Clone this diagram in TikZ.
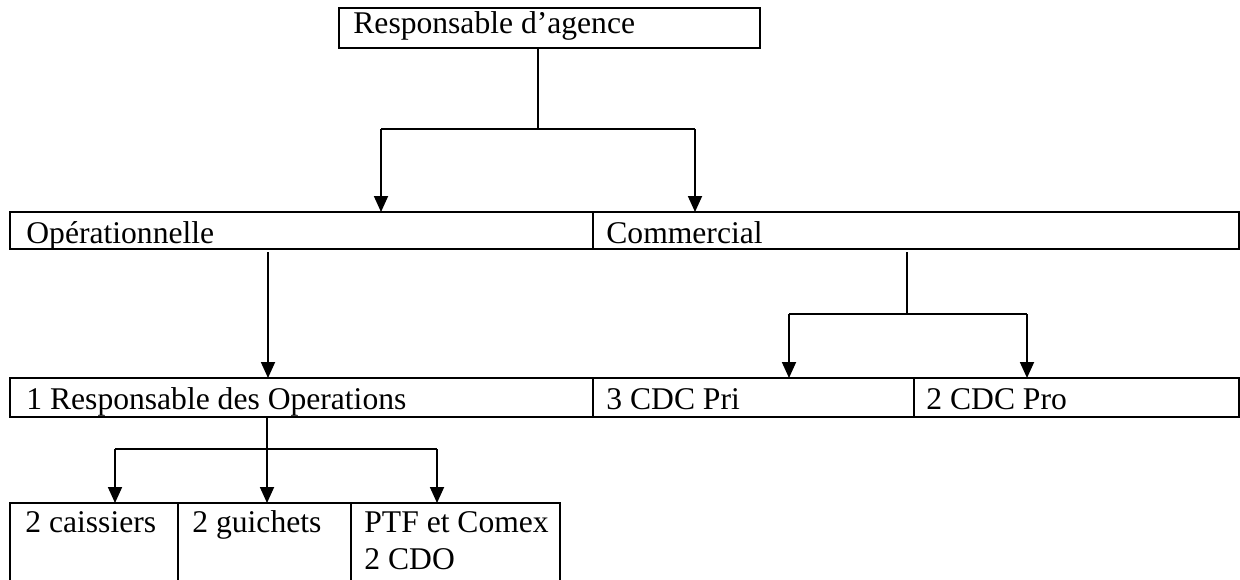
\documentclass[tikz,border=0pt]{standalone}
\usepackage{fontspec}
\setmainfont{Liberation Serif}
\usetikzlibrary{arrows.meta}
\begin{document}
\begin{tikzpicture}[x=0.5pt,y=-0.5pt,
  cell/.style={draw, line width=1.1pt, rectangle, inner sep=0pt, outer sep=0pt, anchor=north west},
  txt/.style={anchor=base west, inner sep=0pt, font=\fontsize{15.8}{18}\selectfont},
  conn/.style={line width=0.9pt},
  arr/.style={conn, -{Triangle[length=8pt,width=7pt]}}]
\useasboundingbox (0,0) rectangle (1240,579);
\clip (0,0) rectangle (1240,579);
% top box
\node[cell, minimum width=210.5pt, minimum height=20pt] (top) at (339,8) {};
\node[txt] (ttop) at (353,33) {Responsable d’agence};
% row 2
\node[cell, minimum width=291.5pt, minimum height=18.5pt] (opc) at (10,212) {};
\node[cell, minimum width=323pt, minimum height=18.5pt] (comc) at (593,212) {};
\node[txt] (topc) at (26,243) {Opérationnelle};
\node[txt] (tcomc) at (606,243) {Commercial};
% row 3
\node[cell, minimum width=291.5pt, minimum height=19.5pt] (resp) at (10,378) {};
\node[cell, minimum width=160.5pt, minimum height=19.5pt] (pri) at (593,378) {};
\node[cell, minimum width=162.5pt, minimum height=19.5pt] (pro) at (914,378) {};
\node[txt] (tresp) at (26,409) {1 Responsable des Operations};
\node[txt] (tpri) at (606,409) {3 CDC Pri};
\node[txt] (tpro) at (926,409) {2 CDC Pro};
% row 4
\node[cell, minimum width=84pt, minimum height=100pt] (cais) at (10,503) {};
\node[cell, minimum width=86.5pt, minimum height=100pt] (gui) at (178,503) {};
\node[cell, minimum width=104.5pt, minimum height=100pt] (ptf) at (351,503) {};
\node[txt] (tcais) at (25,532) {2 caissiers};
\node[txt] (tgui) at (192,532) {2 guichets};
\node[txt] (tptf) at (364,532) {PTF et Comex};
\node[txt] (tcdo) at (364,569) {2 CDO};
% connectors level 1
\coordinate (j1) at (538,129);
\coordinate (bL) at (381,129);
\coordinate (bR) at (695,129);
\draw[conn] (top.south -| j1) -- (j1);
\draw[conn] (bL) -- (bR);
\draw[arr] (bL) -- (bL |- opc.north);
\draw[arr] (bR) -- (bR |- comc.north);
% Operationnelle -> Responsable des Operations
\coordinate (a1) at (268,252);
\draw[arr] (a1) -- (a1 |- resp.north);
% Commercial -> CDC
\coordinate (j2) at (907,314);
\coordinate (cL) at (789,314);
\coordinate (cR) at (1027,314);
\draw[conn] ([yshift=-1.5pt]comc.south -| j2) -- (j2);
\draw[conn] (cL) -- (cR);
\draw[arr] (cL) -- (cL |- pri.north);
\draw[arr] (cR) -- (cR |- pro.north);
% Responsable des Operations -> row 4
\coordinate (j3) at (267,449);
\coordinate (dL) at (115,449);
\coordinate (dR) at (437,449);
\draw[conn] (resp.south -| j3) -- (j3);
\draw[conn] (dL) -- (dR);
\draw[arr] (dL) -- (dL |- cais.north);
\draw[arr] (j3) -- (j3 |- gui.north);
\draw[arr] (dR) -- (dR |- ptf.north);
\end{tikzpicture}
\end{document}
